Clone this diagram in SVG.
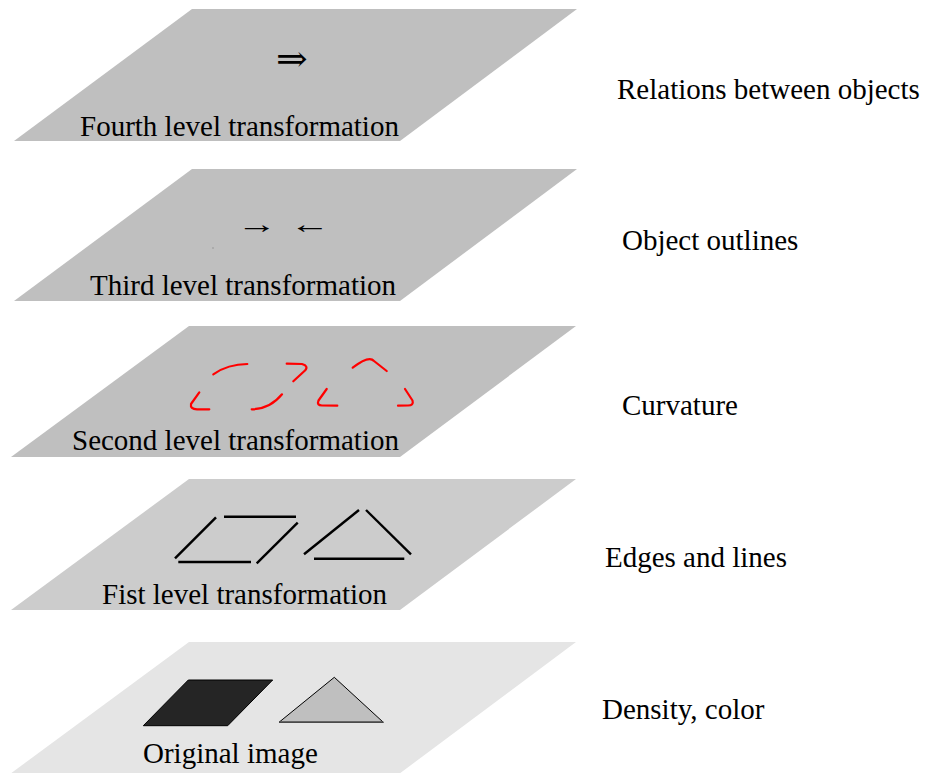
<svg xmlns="http://www.w3.org/2000/svg" width="926" height="773" viewBox="0 0 926 773">
<style>
text{font-family:"Liberation Serif","DejaVu Serif",serif;font-size:29px;fill:#000}
.sym{font-family:"Liberation Serif","DejaVu Serif",serif;font-size:26px}
.red{fill:none;stroke:#ff0000;stroke-width:2.2;stroke-linecap:round;stroke-linejoin:round}
.blk{stroke:#000;stroke-width:2.4;stroke-linecap:butt}
</style>
<rect width="926" height="773" fill="#ffffff"/>
<g id="level4">
<polygon points="14,141 192,9 577,9 400,141" fill="#bfbfbf"/>
<text class="sym" transform="translate(276,71) scale(1.05,1)" x="0" y="0" style="font-size:36px">⇒</text>
<text x="80" y="136">Fourth level transformation</text>
</g>
<g id="level3">
<polygon points="14,301 192,169 577,169 400,301" fill="#bfbfbf"/>
<text class="sym" transform="translate(237,233) scale(1.55,1)" x="0" y="0">→</text>
<text class="sym" transform="translate(290,233) scale(1.55,1)" x="0" y="0">←</text>
<circle cx="213" cy="248" r="0.7" fill="#888"/>
<text x="90" y="295">Third level transformation</text>
</g>
<g id="level2">
<polygon points="11,457 189,326 576,326 400,457" fill="#bfbfbf"/>
<path class="red" d="M213.3,374.3 Q228,364 247.3,364"/>
<path class="red" d="M199.3,392.3 L191,404 Q190,409 197,409.3 L209.3,409.3"/>
<path class="red" d="M286.7,363.7 L302,364 Q309,366 305,370.5 L293.3,381.3"/>
<path class="red" d="M251.7,409.3 Q270,409 282,394.3"/>
<path class="red" d="M352.7,367.7 Q369,355 374,361 L386.7,371"/>
<path class="red" d="M326.7,389 L318.5,400.5 Q316.5,405.5 322,405.5 L337.3,405.7"/>
<path class="red" d="M405,389 L412.5,400.5 Q414,405.5 408,405.5 L398,405.7"/>
<text x="72" y="450">Second level transformation</text>
</g>
<g id="level1">
<polygon points="11,610 189,479 576,479 400,610" fill="#cccccc"/>
<line class="blk" x1="175" y1="558.3" x2="216" y2="517.3"/>
<line class="blk" x1="224" y1="516.7" x2="296" y2="516.7"/>
<line class="blk" x1="297.7" y1="522.7" x2="256.7" y2="563.3"/>
<line class="blk" x1="178.3" y1="562" x2="251" y2="562"/>
<line class="blk" x1="304" y1="554.3" x2="359" y2="510"/>
<line class="blk" x1="366" y1="510" x2="411" y2="554.3"/>
<line class="blk" x1="314" y1="558.7" x2="404.3" y2="558.7"/>
<text x="102" y="604">Fist level transformation</text>
</g>
<g id="original">
<polygon points="10,774 189,642 576,642 399,774" fill="#e5e5e5"/>
<polygon points="143.3,725.7 188.3,680 272.7,680 227.7,725.7" fill="#252525" stroke="#000" stroke-width="1"/>
<polygon points="279,722.3 334.3,677.3 383.3,722.3" fill="#bfbfbf" stroke="#000" stroke-width="1"/>
<line x1="279" y1="722" x2="383.3" y2="722" stroke="#555" stroke-width="1.6"/>
<text x="143" y="763">Original image</text>
</g>
<g id="descriptions">
<text x="617" y="99">Relations between objects</text>
<text x="622" y="250">Object outlines</text>
<text x="622" y="415">Curvature</text>
<text x="605" y="567">Edges and lines</text>
<text x="602" y="719">Density, color</text>
</g>
</svg>
